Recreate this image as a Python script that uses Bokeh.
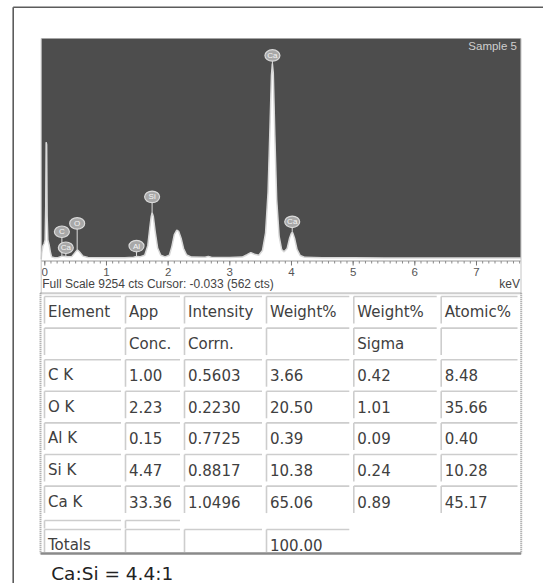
import numpy as np
from bokeh.plotting import figure
from bokeh.models import Range1d
from bokeh.core.properties import value
from bokeh.embed import file_html
from bokeh.resources import INLINE

# ---------------- EDS spectrum (energy in keV, counts) ----------------
SPEC_KEV = [-0.058, -0.05, -0.03, -0.01, 0.005, 0.015, 0.022, 0.03, 0.038, 0.05,
            0.07, 0.09, 0.11, 0.16, 0.22, 0.27, 0.30, 0.36, 0.44, 0.50,
            0.53, 0.56, 0.62, 0.70, 0.90, 1.10, 1.30, 1.44, 1.49, 1.54,
            1.62, 1.67, 1.70, 1.725, 1.74, 1.76, 1.79, 1.83, 1.88, 1.95,
            2.02, 2.06, 2.10, 2.14, 2.17, 2.21, 2.25, 2.30, 2.38, 2.60,
            2.65, 2.70, 3.00, 3.20, 3.28, 3.34, 3.40, 3.47, 3.53, 3.58,
            3.62, 3.65, 3.675, 3.69, 3.705, 3.73, 3.76, 3.80, 3.84, 3.88,
            3.93, 3.97, 4.00, 4.02, 4.05, 4.09, 4.14, 4.22, 4.50, 5.00,
            5.50, 6.00, 6.50, 7.00, 7.72]
SPEC_CTS = [0, 250, 550, 650, 800, 2200, 4900, 4800, 1800, 800,
            600, 300, 90, 50, 60, 110, 120, 90, 110, 300,
            380, 300, 120, 60, 50, 50, 55, 70, 110, 90,
            160, 560, 1250, 1780, 1940, 1780, 1150, 460, 160, 90,
            160, 520, 1020, 1210, 1160, 870, 440, 170, 80, 70,
            110, 70, 65, 80, 180, 270, 200, 160, 360, 1100,
            2800, 5400, 7700, 8200, 7800, 5200, 2500, 950, 400, 300,
            440, 880, 1090, 1100, 870, 400, 150, 70, 50, 50,
            45, 45, 40, 40, 40]

FULL_SCALE = 9254          # counts at the top of the panel
CURSOR_KEV = -0.033
CURSOR_CTS = 562
KEV_MIN, KEV_MAX = -0.058, 7.72
SAMPLE_NAME = "Sample 5"

PEAK_LABELS = ["C", "Ca", "O", "Al", "Si", "Ca", "Ca"]
PEAK_KEV = [0.277, 0.341, 0.525, 1.487, 1.740, 3.691, 4.012]
LABEL_CTS = [1143, 473, 1495, 544, 2609, 8542, 1562]

AXIS_TICKS = [0, 1, 2, 3, 4, 5, 6, 7]
AXIS_TICK_LABELS = [str(t) for t in AXIS_TICKS]

# ---------------- quantification table ----------------
HEADER_1 = ["Element", "App", "Intensity", "Weight%", "Weight%", "Atomic%"]
HEADER_2 = ["", "Conc.", "Corrn.", "", "Sigma", ""]
ELEMENTS = ["C K", "O K", "Al K", "Si K", "Ca K"]
APP_CONC = [1.00, 2.23, 0.15, 4.47, 33.36]
INTENSITY_CORRN = [0.5603, 0.2230, 0.7725, 0.8817, 1.0496]
WEIGHT_PCT = [3.66, 20.50, 0.39, 10.38, 65.06]
WEIGHT_SIGMA = [0.42, 1.01, 0.09, 0.24, 0.89]
ATOMIC_PCT = [8.48, 35.66, 0.40, 10.28, 45.17]
TOTAL_WEIGHT = 100.00

# ---------------- page geometry (pixels) ----------------
W, H = 543, 583
X_ZERO = 44.3            # pixel column of 0 keV
PX_PER_KEV = 61.67
Y_BASE = 258.5           # pixel row of 0 counts
Y_TOP = 38.0             # pixel row of full scale
CTS_PER_PX = FULL_SCALE / (Y_BASE - Y_TOP)

FONT = value("DejaVu Sans")
FONT_SMALL = value("Liberation Sans")

p = figure(width=W, height=H, x_range=Range1d(0, W), y_range=Range1d(H, 0),
           min_border=0, toolbar_location=None, output_backend="svg",
           x_axis_type=None, y_axis_type=None)
p.outline_line_color = None
p.background_fill_color = "white"
p.border_fill_color = "white"

p.extra_x_ranges = {"kev": Range1d((0 - X_ZERO) / PX_PER_KEV, (W - X_ZERO) / PX_PER_KEV)}
p.extra_y_ranges = {"cts": Range1d((Y_BASE - H) * CTS_PER_PX, Y_BASE * CTS_PER_PX)}
KC = dict(x_range_name="kev", y_range_name="cts")

# outer frame (top and left edges)
p.segment(x0=[12.7, 12.7], y0=[6.7, 6.7], x1=[W, 12.7], y1=[6.7, H],
          line_color="#5c5c5c", line_width=1.6)

# spectrum panel
p.quad(left=KEV_MIN, right=KEV_MAX, bottom=0, top=FULL_SCALE,
       fill_color="#4d4d4d", line_color=None, **KC)
p.varea(x=SPEC_KEV, y1=0, y2=SPEC_CTS, fill_color="white", **KC)
p.line(x=SPEC_KEV, y=SPEC_CTS, line_color="#d8d8d8", line_width=1.5, **KC)

# peak markers: stems, then the badges on top
stem_end = np.interp(PEAK_KEV, SPEC_KEV, SPEC_CTS)
p.segment(x0=PEAK_KEV, y0=LABEL_CTS, x1=PEAK_KEV, y1=stem_end,
          line_color="#dcdcdc", line_width=1, **KC)
p.ellipse(x=PEAK_KEV, y=LABEL_CTS, width=15, height=11.5,
          width_units="screen", height_units="screen",
          fill_color="#a8a8a8", line_color="#dadada", line_width=1.2, **KC)
p.text(x=PEAK_KEV, y=LABEL_CTS, text=PEAK_LABELS, text_align="center",
       text_baseline="middle", text_font=FONT_SMALL, text_font_size="8px",
       text_color="#f4f4f4", **KC)

p.text(x=[KEV_MAX], y=[Y_TOP + 7], text=[SAMPLE_NAME], x_range_name="kev",
       text_align="right", text_baseline="middle", text_font=FONT_SMALL,
       x_offset=-4, text_font_size="11.5px", text_color="#cfcfcf")

# energy axis
AXIS_Y = 260.5
minor = np.round(np.arange(0, KEV_MAX, 0.1), 2)
p.segment(x0=[KEV_MIN], x1=[KEV_MAX], y0=[AXIS_Y], y1=[AXIS_Y],
          line_color="#9a9a9a", line_width=1, x_range_name="kev")
p.segment(x0=minor, x1=minor, y0=AXIS_Y, y1=AXIS_Y + 2.5,
          line_color="#8a8a8a", line_width=1, x_range_name="kev")
p.segment(x0=AXIS_TICKS, x1=AXIS_TICKS, y0=AXIS_Y, y1=AXIS_Y + 4.5,
          line_color="#777777", line_width=1, x_range_name="kev")
p.text(x=AXIS_TICKS, y=271, text=AXIS_TICK_LABELS, x_range_name="kev",
       text_align="center", text_baseline="middle", text_font=FONT_SMALL,
       text_font_size="11.5px", text_color="#555555")
p.text(x=[KEV_MIN], y=[283.5],
       text=[f"Full Scale {FULL_SCALE} cts Cursor: {CURSOR_KEV:.3f}  ({CURSOR_CTS} cts)"],
       x_range_name="kev", x_offset=1, text_align="left", text_baseline="middle",
       text_font=FONT_SMALL, text_font_size="12px", text_color="#444444")
p.text(x=[KEV_MAX], y=[283.5], text=["keV"], x_range_name="kev", x_offset=-1,
       text_align="right", text_baseline="middle", text_font=FONT_SMALL,
       text_font_size="12px", text_color="#444444")
# panel side edges down to the table
p.segment(x0=[40.7, 520.5], x1=[40.7, 520.5], y0=[38, 38], y1=[292.7, 292.7],
          line_color="#c4c4c4", line_width=1)

# ---------------- table ----------------
T_TOP, T_BOTTOM, T_LEFT, T_RIGHT = 292.7, 553.0, 40.0, 520.7
p.segment(x0=[T_LEFT, T_LEFT, T_RIGHT], y0=[T_TOP, T_TOP, T_TOP],
          x1=[T_RIGHT, T_LEFT, T_RIGHT], y1=[T_TOP, T_BOTTOM, T_BOTTOM],
          line_color="#9a9a9a", line_width=2, line_dash="1 1")
p.segment(x0=[T_LEFT], y0=[T_BOTTOM], x1=[T_RIGHT], y1=[T_BOTTOM],
          line_color="#8a8a8a", line_width=2.5)

COL_X = [44.0, 125.0, 184.0, 266.0, 353.3, 440.7]
COL_END = [c - 4.5 for c in COL_X[1:]] + [517.0]
ROW_TOP0, ROW_STEP, CELL_H = 296.0, 31.6, 27.0

fmt_rows = [HEADER_1, HEADER_2]
for i, el in enumerate(ELEMENTS):
    fmt_rows.append([el, f"{APP_CONC[i]:.2f}", f"{INTENSITY_CORRN[i]:.4f}",
                     f"{WEIGHT_PCT[i]:.2f}", f"{WEIGHT_SIGMA[i]:.2f}", f"{ATOMIC_PCT[i]:.2f}"])

cells = []   # (col, top, height, text)
for r, row in enumerate(fmt_rows):
    top = ROW_TOP0 + r * ROW_STEP
    for c, txt in enumerate(row):
        cells.append((c, top, CELL_H, txt))
spacer_top = 520.0
for c in range(2):
    cells.append((c, spacer_top, 8.0, ""))
totals_top = 529.0
totals_row = ["Totals", "", "", f"{TOTAL_WEIGHT:.2f}"]
for c, txt in enumerate(totals_row):
    cells.append((c, totals_top, T_BOTTOM - totals_top - 1.5, txt))

bx0, by0, bx1, by1 = [], [], [], []
tx, ty, tt = [], [], []
for c, top, h, txt in cells:
    bx0 += [COL_X[c], COL_X[c]]
    by0 += [top, top]
    bx1 += [COL_END[c], COL_X[c]]
    by1 += [top, top + h]
    if txt:
        tx.append(COL_X[c] + 3.5)
        ty.append(top + (15.5 if h > 20 else 0))
        tt.append(txt)
p.segment(x0=bx0, y0=by0, x1=bx1, y1=by1, line_color="#cdcdcd", line_width=1.6)
p.text(x=tx, y=ty, text=tt, text_align="left", text_baseline="middle",
       text_font=FONT, text_font_size="15px", text_color="#404040")

ratio = ATOMIC_PCT[ELEMENTS.index("Ca K")] / ATOMIC_PCT[ELEMENTS.index("Si K")]
p.text(x=[50.7], y=[573.3], text=[f"Ca:Si = {ratio:.1f}:1"], text_align="left",
       text_baseline="middle", text_font=FONT, text_font_size="18.5px",
       text_color="#222222")

open("out.html", "w").write(file_html(p, INLINE))
